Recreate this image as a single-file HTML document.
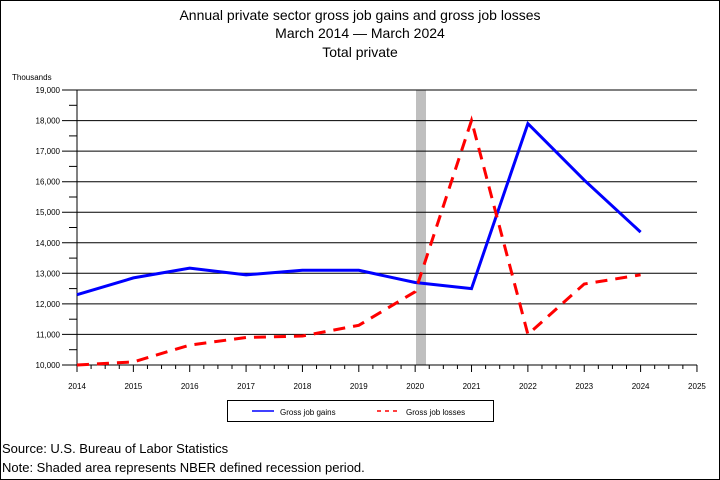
<!DOCTYPE html>
<html><head><style>
body{margin:0;background:#fff}
svg{display:block}
text{font-family:"Liberation Sans",sans-serif}
</style></head><body>
<svg width="720" height="480" viewBox="0 0 720 480">
<rect x="0.5" y="0.5" width="719" height="479" fill="#fff" stroke="#000"/>
<text x="360" y="20" font-size="14" text-anchor="middle">Annual private sector gross job gains and gross job losses</text>
<text x="360" y="38" font-size="14" text-anchor="middle">March 2014 — March 2024</text>
<text x="360" y="57" font-size="14" text-anchor="middle">Total private</text>
<text x="12" y="80" font-size="8">Thousands</text>
<rect x="416" y="90" width="10" height="275" fill="#bfbfbf"/>
<g stroke="#000" stroke-width="1">
<line x1="62" y1="365" x2="697" y2="365"/>
<line x1="62" y1="334.4" x2="697" y2="334.4"/>
<line x1="62" y1="303.9" x2="697" y2="303.9"/>
<line x1="62" y1="273.3" x2="697" y2="273.3"/>
<line x1="62" y1="242.8" x2="697" y2="242.8"/>
<line x1="62" y1="212.2" x2="697" y2="212.2"/>
<line x1="62" y1="181.7" x2="697" y2="181.7"/>
<line x1="62" y1="151.1" x2="697" y2="151.1"/>
<line x1="62" y1="120.6" x2="697" y2="120.6"/>
<line x1="62" y1="90" x2="697" y2="90"/>
<line x1="77" y1="90" x2="77" y2="372"/>
<g>
<line x1="69" y1="349.7" x2="77" y2="349.7"/><line x1="69" y1="319.2" x2="77" y2="319.2"/><line x1="69" y1="288.6" x2="77" y2="288.6"/><line x1="69" y1="258.1" x2="77" y2="258.1"/><line x1="69" y1="227.5" x2="77" y2="227.5"/><line x1="69" y1="197" x2="77" y2="197"/><line x1="69" y1="166.4" x2="77" y2="166.4"/><line x1="69" y1="135.9" x2="77" y2="135.9"/><line x1="69" y1="105.3" x2="77" y2="105.3"/>
</g>
</g>
<g id="xt" stroke="#000"></g>
<g font-size="8" text-anchor="end">
<text x="60" y="368">10,000</text><text x="60" y="337.4">11,000</text><text x="60" y="306.9">12,000</text><text x="60" y="276.3">13,000</text><text x="60" y="245.8">14,000</text><text x="60" y="215.2">15,000</text><text x="60" y="184.7">16,000</text><text x="60" y="154.1">17,000</text><text x="60" y="123.6">18,000</text><text x="60" y="93">19,000</text>
</g>
<g font-size="8" text-anchor="middle" id="xl"></g>
<polyline fill="none" stroke="#00f" stroke-width="3" points="77,294.7 133.4,277.9 189.7,268.1 246.1,274.9 302.4,270.3 358.8,270.3 415.2,282.5 471.5,288.6 527.9,123.6 584.2,180.1 640.6,232.1"/>
<polyline fill="none" stroke="#f00" stroke-width="3" stroke-dasharray="12,8" points="77,365 133.4,361.9 189.7,345.1 246.1,337.5 302.4,336 358.8,325.3 415.2,291.7 471.5,120.5 527.9,334.4 584.2,284 640.6,274.8"/>
<rect x="227.5" y="400.5" width="266" height="21" fill="none" stroke="#000"/>
<line x1="252" y1="411" x2="274" y2="411" stroke="#00f" stroke-width="1.5"/>
<text x="280" y="415" font-size="8">Gross job gains</text>
<line x1="377" y1="411" x2="399" y2="411" stroke="#f00" stroke-width="1.5" stroke-dasharray="4,4"/>
<text x="406" y="415" font-size="8">Gross job losses</text>
<text x="2" y="453" font-size="13">Source: U.S. Bureau of Labor Statistics</text>
<text x="2" y="472" font-size="13">Note: Shaded area represents NBER defined recession period.</text>
</svg>
<script>
var xt=document.getElementById('xt'),xl=document.getElementById('xl'),ns='http://www.w3.org/2000/svg';
for(var i=0;i<=44;i++){var x=77+56.36*i/4;var l=document.createElementNS(ns,'line');l.setAttribute('x1',x);l.setAttribute('x2',x);l.setAttribute('y1',365);l.setAttribute('y2',i%4?369:372);xt.appendChild(l);
if(i%4==0){var t=document.createElementNS(ns,'text');t.setAttribute('x',x);t.setAttribute('y',389);t.textContent=2014+i/4;xl.appendChild(t);}}
</script>
</body></html>
